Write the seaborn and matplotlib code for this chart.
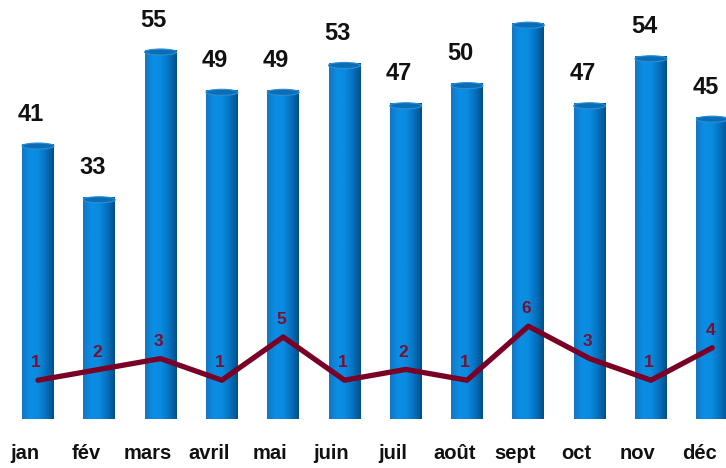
import numpy as np
import pandas as pd
import seaborn as sns
import matplotlib.pyplot as plt
from matplotlib.colors import LinearSegmentedColormap
from matplotlib.patches import Ellipse
from matplotlib.transforms import ScaledTranslation

mois = ['jan', 'fév', 'mars', 'avril', 'mai', 'juin', 'juil', 'août', 'sept', 'oct', 'nov', 'déc']
total = [41, 33, 55, 49, 49, 53, 47, 50, 59, 47, 54, 45]
autres = [1, 2, 3, 1, 5, 1, 2, 1, 6, 3, 1, 4]

df = pd.DataFrame({'mois': mois, 'total': total, 'autres': autres})

sns.set_style('white')
plt.rcParams['font.family'] = ['Liberation Sans', 'DejaVu Sans']

fig = plt.figure(figsize=(7.26, 4.68), dpi=100)
ax = fig.add_axes([0.0101, 0.1047, 1.0132, 0.8953])

sns.barplot(data=df, x='mois', y='total', color='#0a86dc', width=0.52,
            saturation=1, ax=ax)

# cylinder look: horizontal gradient clipped to each bar + a cap on top
cyl = LinearSegmentedColormap.from_list(
    'cyl', ['#1476c2', '#0a8ee4', '#0a8be0', '#0672bf', '#034f88'])
grad = np.linspace(0, 1, 64).reshape(1, -1)
for p in ax.patches:
    x0, w, h = p.get_x(), p.get_width(), p.get_height()
    im = ax.imshow(grad, cmap=cyl, aspect='auto', extent=(x0, x0 + w, 0, h), zorder=2)
    im.set_clip_path(p)
    cap = Ellipse((x0 + w / 2, h - 0.35), w, 0.9, facecolor='#0b6db5',
                  edgecolor='#2a8fd6', lw=0.8, zorder=3)
    ax.add_patch(cap)

ax.set_xlim(-0.5, 11.5)
ax.set_ylim(0, 62.4)

for i, v in enumerate(total):
    if v + 5 < 62.4:
        ax.annotate(str(v), (i, v), xytext=(-5, 13), textcoords='offset points',
                    ha='center', va='bottom', fontsize=17, fontweight='bold',
                    color='#111111')

ax.set_xticks(range(len(mois)))
ax.set_xticklabels(mois, fontsize=14.5, fontweight='bold', color='#111111')
ax.tick_params(axis='x', length=0, pad=18)
shift = ScaledTranslation(-13 / 100, 0, fig.dpi_scale_trans)
for lab in ax.get_xticklabels():
    lab.set_transform(lab.get_transform() + shift)
ax.set_yticks([])
ax.set_xlabel('')
ax.set_ylabel('')
sns.despine(ax=ax, left=True, bottom=True)

ax2 = ax.twinx()
sns.lineplot(x=df.index, y=df.autres, color='#7a0025', linewidth=3.8, ax=ax2)
ax2.set_ylim(-2.59, 36.2)
ax2.set_xlim(-0.5, 11.5)
for i, v in enumerate(autres):
    ax2.annotate(str(v), (i, v), xytext=(-1.5, 7), textcoords='offset points',
                 ha='center', va='bottom', fontsize=12.5, fontweight='bold',
                 color='#7a1030')
ax2.set_yticks([])
ax2.set_ylabel('')
sns.despine(ax=ax2, left=True, bottom=True, right=True)

fig.savefig('out.png', dpi=100)
